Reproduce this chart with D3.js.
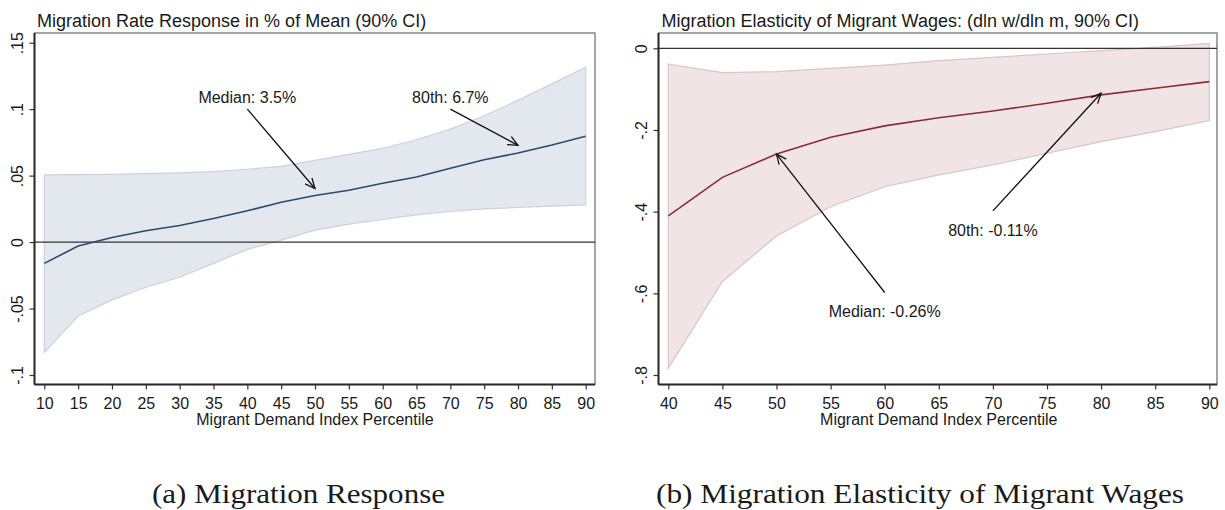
<!DOCTYPE html>
<html>
<head>
<meta charset="utf-8">
<script src="https://cdn.jsdelivr.net/npm/d3@7"></script>
<style>
  html, body { margin: 0; padding: 0; background: #fff; }
  svg { display: block; }
  text { font-family: "Liberation Sans", Arial, sans-serif; fill: #1a1a1a; }
  .cap { font-family: "Liberation Serif", "Times New Roman", serif; }
</style>
</head>
<body>
<svg id="chart" width="1225" height="510"></svg>
<script>
// ---------- Data: Panel (a) ----------
const pctA = [10, 15, 20, 25, 30, 35, 40, 45, 50, 55, 60, 65, 70, 75, 80, 85, 90];
const estA = [-0.016, -0.003, 0.0035, 0.0085, 0.0125, 0.0178, 0.0235, 0.030, 0.035, 0.039, 0.0442, 0.049, 0.0555, 0.062, 0.067, 0.073, 0.0796];
const hiA  = [0.0505, 0.0508, 0.051, 0.0515, 0.052, 0.053, 0.0548, 0.057, 0.0615, 0.066, 0.0705, 0.077, 0.085, 0.095, 0.1066, 0.119, 0.1316];
const loA  = [-0.083, -0.0556, -0.0435, -0.034, -0.0265, -0.016, -0.0055, 0.0015, 0.009, 0.0135, 0.017, 0.0205, 0.023, 0.025, 0.026, 0.027, 0.028];
const yTicksA = [-0.1, -0.05, 0, 0.05, 0.1, 0.15];
const yLabelsA = ["-.1", "-.05", "0", ".05", ".1", ".15"];
const xTicksA = [10, 15, 20, 25, 30, 35, 40, 45, 50, 55, 60, 65, 70, 75, 80, 85, 90];
const annoA = [
  { label: "Median: 3.5%", tx: 40, ty: 0.109, x0: 40, y0: 0.1, x1: 50, y1: 0.0403 },
  { label: "80th: 6.7%",   tx: 70, ty: 0.109, x0: 70, y0: 0.1, x1: 80, y1: 0.0728 }
];
const titleA = "Migration Rate Response in % of Mean (90% CI)";
const captionA = "(a) Migration Response";

// ---------- Data: Panel (b) ----------
const pctB = [40, 45, 50, 55, 60, 65, 70, 75, 80, 85, 90];
const estB = [-0.4105, -0.316, -0.259, -0.218, -0.190, -0.170, -0.1535, -0.1347, -0.114, -0.098, -0.0817];
const hiB  = [-0.0384, -0.0597, -0.0573, -0.049, -0.041, -0.0303, -0.022, -0.014, -0.0058, 0.0024, 0.0122];
const loB  = [-0.783, -0.571, -0.4595, -0.388, -0.339, -0.310, -0.2857, -0.257, -0.2286, -0.204, -0.177];
const yTicksB = [-0.8, -0.6, -0.4, -0.2, 0];
const yLabelsB = ["-.8", "-.6", "-.4", "-.2", "0"];
const xTicksB = [40, 45, 50, 55, 60, 65, 70, 75, 80, 85, 90];
const annoB = [
  { label: "Median: -0.26%", tx: 60, ty: -0.645, x0: 60, y0: -0.598, x1: 50, y1: -0.259 },
  { label: "80th: -0.11%",   tx: 70, ty: -0.445, x0: 70, y0: -0.398, x1: 80, y1: -0.110 }
];
const titleB = "Migration Elasticity of Migrant Wages: (dln w/dln m, 90% CI)";
const captionB = "(b) Migration Elasticity of Migrant Wages";

const xLabel = "Migrant Demand Index Percentile";

// ---------- Drawing ----------
const svg = d3.select("#chart");
svg.append("rect").attr("width", 1225).attr("height", 510).attr("fill", "#fff");

const defs = svg.append("defs");
defs.append("marker")
  .attr("id", "arrow")
  .attr("viewBox", "-12 -6 14 12")
  .attr("refX", 0).attr("refY", 0)
  .attr("markerWidth", 14).attr("markerHeight", 12)
  .attr("markerUnits", "userSpaceOnUse")
  .attr("orient", "auto")
  .append("path")
  .attr("d", "M-10,-4.5 L0,0 L-10,4.5")
  .attr("fill", "none").attr("stroke", "#111").attr("stroke-width", 1.3);

function panel(cfg) {
  const g = svg.append("g");
  const x = d3.scaleLinear().domain(cfg.xDomain).range(cfg.xRange);
  const y = d3.scaleLinear().domain(cfg.yDomain).range(cfg.yRange);
  const f = cfg.frame;

  g.append("rect")
    .attr("x", f.x0).attr("y", f.y0)
    .attr("width", f.x1 - f.x0).attr("height", f.y1 - f.y0)
    .attr("fill", "none").attr("stroke", "#6a6a6a").attr("stroke-width", 1.2);

  const rows = cfg.pct.map((p, i) => ({ p, est: cfg.est[i], hi: cfg.hi[i], lo: cfg.lo[i] }));

  const area = d3.area().x(d => x(d.p)).y0(d => y(d.lo)).y1(d => y(d.hi));
  g.append("path").datum(rows)
    .attr("d", area)
    .attr("fill", cfg.bandFill)
    .attr("stroke", cfg.bandStroke).attr("stroke-width", 1.2);

  g.append("line")
    .attr("x1", f.x0).attr("x2", f.x1)
    .attr("y1", y(0)).attr("y2", y(0))
    .attr("stroke", "#333").attr("stroke-width", 1.2);

  const line = d3.line().x(d => x(d.p)).y(d => y(d.est));
  g.append("path").datum(rows)
    .attr("d", line)
    .attr("fill", "none")
    .attr("stroke", cfg.lineColor).attr("stroke-width", 1.6);

  const xAxis = d3.axisBottom(x).tickValues(cfg.xTicks).tickFormat(d3.format("d"))
    .tickSize(5).tickPadding(8).tickSizeOuter(0);
  const xg = g.append("g").attr("transform", `translate(0,${f.y1})`).call(xAxis);
  xg.select(".domain").remove();
  xg.append("line").attr("x1", f.x0).attr("x2", f.x1).attr("y1", 0).attr("y2", 0)
    .attr("stroke", "#2a2a2a").attr("stroke-width", 2);
  xg.selectAll(".tick line").attr("stroke", "#333").attr("stroke-width", 1.2);
  xg.selectAll(".tick text").attr("font-size", 16).attr("fill", "#1a1a1a")
    .attr("font-family", "Liberation Sans, Arial, sans-serif");

  const yAxis = d3.axisLeft(y).tickValues(cfg.yTicks)
    .tickFormat((d, i) => cfg.yLabels[i]).tickSize(5).tickSizeOuter(0);
  const yg = g.append("g").attr("transform", `translate(${f.x0},0)`).call(yAxis);
  yg.select(".domain").remove();
  yg.append("line").attr("x1", 0).attr("x2", 0).attr("y1", f.y0).attr("y2", f.y1)
    .attr("stroke", "#2a2a2a").attr("stroke-width", 2);
  yg.selectAll(".tick line").attr("stroke", "#333").attr("stroke-width", 1.2);
  yg.selectAll(".tick text")
    .attr("font-size", 16).attr("fill", "#1a1a1a")
    .attr("font-family", "Liberation Sans, Arial, sans-serif")
    .attr("transform", "rotate(-90)")
    .attr("x", 0).attr("y", -11.5).attr("dy", 0)
    .attr("text-anchor", "middle");

  g.append("text")
    .attr("x", (cfg.xRange[0] + cfg.xRange[1]) / 2).attr("y", 425)
    .attr("text-anchor", "middle").attr("font-size", 16)
    .text(xLabel);

  g.append("text")
    .attr("x", cfg.titleX).attr("y", 27)
    .attr("font-size", 18)
    .text(cfg.title);

  cfg.anno.forEach(a => {
    g.append("line")
      .attr("x1", x(a.x0)).attr("y1", y(a.y0))
      .attr("x2", x(a.x1)).attr("y2", y(a.y1))
      .attr("stroke", "#111").attr("stroke-width", 1.3)
      .attr("marker-end", "url(#arrow)");
    g.append("text")
      .attr("x", x(a.tx)).attr("y", y(a.ty))
      .attr("dy", "0.35em")
      .attr("text-anchor", "middle").attr("font-size", 16)
      .text(a.label);
  });

  g.append("text").attr("class", "cap")
    .attr("x", cfg.capX).attr("y", 503)
    .attr("text-anchor", "middle").attr("font-size", 27)
    .attr("textLength", cfg.capW).attr("lengthAdjust", "spacingAndGlyphs")
    .text(cfg.caption);
}

panel({
  pct: pctA, est: estA, hi: hiA, lo: loA,
  xDomain: [10, 90], xRange: [44.3, 585.7],
  yDomain: [-0.1, 0.15], yRange: [375, 42.7],
  frame: { x0: 34.5, x1: 595, y0: 33, y1: 384.5 },
  xTicks: xTicksA, yTicks: yTicksA, yLabels: yLabelsA,
  bandFill: "#e3e8ee", bandStroke: "#c9d3de", lineColor: "#2b4a6c",
  anno: annoA, title: titleA, titleX: 37,
  caption: captionA, capX: 298.5, capW: 293
});

panel({
  pct: pctB, est: estB, hi: hiB, lo: loB,
  xDomain: [40, 90], xRange: [668.3, 1209.3],
  yDomain: [-0.8, 0], yRange: [375, 48.3],
  frame: { x0: 658.5, x1: 1217, y0: 33, y1: 384.5 },
  xTicks: xTicksB, yTicks: yTicksB, yLabels: yLabelsB,
  bandFill: "#f0e4e5", bandStroke: "#dcc3c6", lineColor: "#8b2c39",
  anno: annoB, title: titleB, titleX: 661.5,
  caption: captionB, capX: 920, capW: 528
});
</script>
</body>
</html>
